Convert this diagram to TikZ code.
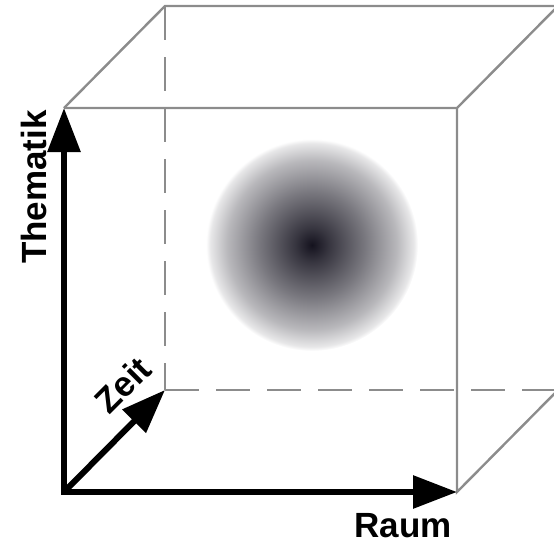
\documentclass[tikz,border=0pt]{standalone}
\usepackage{fontspec}
\setmainfont{Liberation Sans}
\definecolor{cubeedge}{HTML}{8C8C8C}
\definecolor{blobink}{HTML}{14121E}
\usetikzlibrary{arrows.meta}
\pgfdeclareradialshading{blob}{\pgfpoint{0bp}{0bp}}{color(0bp)=(blobink); color(4bp)=(blobink!85!white); color(12.5bp)=(blobink!57!white); color(20bp)=(blobink!30!white); color(24bp)=(blobink!10!white); color(25bp)=(white); color(50bp)=(white)}

\begin{document}
\begin{tikzpicture}[x=1pt, y=-1pt,
    cubeline/.style={draw=cubeedge, line width=2.4pt},
    hiddenline/.style={cubeline, dash pattern=on 34pt off 17pt},
    axistip/.tip={Triangle[length=44pt, width=32pt]},
    every node/.style={font=\fontsize{35}{38}\selectfont\bfseries, text=black}]
        \useasboundingbox (0,0) rectangle (554,541);
        \clip (0,0) rectangle (554,541);
        \coordinate (fbl) at (64,492);
        \coordinate (fbr) at (457,492);
        \coordinate (ftr) at (457,108);
        \coordinate (ftl) at (64,108);
        \coordinate (bbl) at (165,390);
        \coordinate (bbr) at (558,390);
        \coordinate (btr) at (558,6);
        \coordinate (btl) at (165,6);
        \shade[shading=blob] (312,245) circle (106pt);
        \draw[hiddenline] (btl) -- (bbl);
        \draw[hiddenline] (bbl) -- (bbr);
        \draw[cubeline] (ftl) -- (btl) -- (btr);
        \draw[cubeline] (ftl) -- (ftr) -- (btr);
        \draw[cubeline] (ftr) -- (fbr) -- (bbr);
        \draw[line width=6pt, line join=miter, {axistip}-{axistip}] (ftl) -- (fbl) -- (fbr);
        \draw[line width=6pt, -{axistip}] (fbl) -- (bbl);
        \node[rotate=90] (thematik) at (34,187) {Thematik};
        \node[anchor=base] (raum) at (403,537) {Raum};
        \node[rotate=45] (zeit) at (123,385) {Zeit};
      \end{tikzpicture}
\end{document}
